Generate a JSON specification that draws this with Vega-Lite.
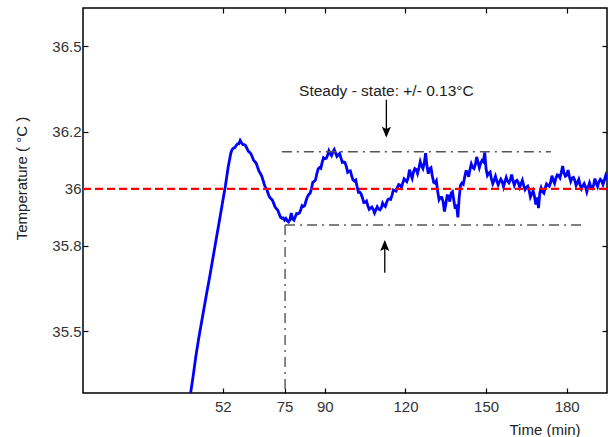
{
"$schema": "https://vega.github.io/schema/vega-lite/v6.json",
"width": 524, "height": 385,
"autosize": {"type": "none"},
"padding": {"left": 83, "top": 8, "right": 1, "bottom": 44},
"background": "white",
"datasets": {
"temp": [
{"t":40.05,"v":35.283},{"t":41,"v":35.343},{"t":42,"v":35.412},{"t":43,"v":35.472},{"t":44,"v":35.525},{"t":45,"v":35.579},{"t":46,"v":35.632},{"t":47,"v":35.683},{"t":48,"v":35.738},{"t":49,"v":35.792},{"t":50,"v":35.847},{"t":51,"v":35.901},{"t":52,"v":35.956},{"t":53,"v":36.011},{"t":54,"v":36.075},{"t":55,"v":36.125},
{"t":55.5,"v":36.138},{"t":56,"v":36.143},{"t":56.5,"v":36.145},{"t":57,"v":36.152},{"t":57.5,"v":36.158},{"t":58,"v":36.158},{"t":58.5,"v":36.17},{"t":59,"v":36.162},{"t":59.5,"v":36.155},{"t":60,"v":36.155},{"t":60.5,"v":36.152},{"t":61,"v":36.142},{"t":61.5,"v":36.132},{"t":62,"v":36.128},{"t":62.5,"v":36.123},{"t":63,"v":36.112},{"t":63.5,"v":36.1},{"t":64,"v":36.095},{"t":64.5,"v":36.089},{"t":65,"v":36.075},{"t":65.5,"v":36.062},{"t":66,"v":36.054},{"t":66.5,"v":36.045},{"t":67,"v":36.03},{"t":67.5,"v":36.014},{"t":68,"v":36.003},{"t":68.5,"v":35.995},{"t":69,"v":35.98},{"t":69.5,"v":35.97},{"t":70,"v":35.965},{"t":70.5,"v":35.96},{"t":71,"v":35.948},{"t":71.5,"v":35.936},{"t":72,"v":35.93},{"t":72.5,"v":35.925},{"t":73,"v":35.912},{"t":73.5,"v":35.9},{"t":74,"v":35.897},{"t":74.5,"v":35.898},
{"t":75,"v":35.89},{"t":75.5,"v":35.896},{"t":76,"v":35.888},{"t":76.5,"v":35.884},{"t":77,"v":35.891},{"t":77.5,"v":35.915},{"t":78,"v":35.894},{"t":78.5,"v":35.89},{"t":79,"v":35.902},{"t":79.5,"v":35.913},{"t":80,"v":35.912},{"t":80.5,"v":35.915},{"t":81,"v":35.925},{"t":81.5,"v":35.941},{"t":82,"v":35.938},{"t":82.5,"v":35.941},{"t":83,"v":35.958},{"t":83.5,"v":35.972},{"t":84,"v":35.98},{"t":84.5,"v":35.984},
{"t":85,"v":36.0},{"t":85.5,"v":36.023},{"t":86,"v":36.026},{"t":86.5,"v":36.031},{"t":87,"v":36.052},{"t":87.5,"v":36.07},{"t":88,"v":36.075},{"t":88.5,"v":36.072},{"t":89,"v":36.093},{"t":89.5,"v":36.109},{"t":90,"v":36.106},{"t":90.5,"v":36.107},{"t":91,"v":36.117},{"t":91.5,"v":36.134},{"t":92,"v":36.125},{"t":92.5,"v":36.117},{"t":93,"v":36.129},{"t":93.5,"v":36.138},{"t":94,"v":36.126},{"t":94.5,"v":36.114},{"t":95,"v":36.119},{"t":95.5,"v":36.124},{"t":96,"v":36.108},{"t":96.5,"v":36.093},{"t":97,"v":36.094},{"t":97.5,"v":36.092},{"t":98,"v":36.078},{"t":98.5,"v":36.058},{"t":99,"v":36.062},{"t":99.5,"v":36.063},
{"t":100,"v":36.045},{"t":100.5,"v":36.031},{"t":101,"v":36.027},{"t":101.5,"v":36.031},{"t":102,"v":36.008},{"t":102.5,"v":35.988},{"t":103,"v":35.988},{"t":103.5,"v":35.982},{"t":104,"v":35.968},{"t":104.5,"v":35.952},{"t":105,"v":35.953},{"t":105.5,"v":35.957},{"t":106,"v":35.94},{"t":106.5,"v":35.928},{"t":107,"v":35.932},{"t":107.5,"v":35.936},{"t":108,"v":35.928},{"t":108.5,"v":35.915},{"t":109,"v":35.926},{"t":109.5,"v":35.937},{"t":110,"v":35.929},{"t":110.5,"v":35.926},{"t":111,"v":35.932},{"t":111.5,"v":35.95},{"t":112,"v":35.942},{"t":112.5,"v":35.938},{"t":113,"v":35.953},{"t":113.5,"v":35.963},{"t":114,"v":35.965},{"t":114.5,"v":35.963},{"t":115,"v":35.978},{"t":115.5,"v":35.996},{"t":116,"v":35.994},{"t":116.5,"v":35.992},{"t":117,"v":36.005},{"t":117.5,"v":36.015},{"t":118,"v":36.013},{"t":118.5,"v":36.005},{"t":119,"v":36.021},{"t":119.5,"v":36.035},
{"t":120,"v":36.03},{"t":120.5,"v":36.025},{"t":121,"v":36.038},{"t":121.5,"v":36.067},{"t":122,"v":36.05},{"t":122.5,"v":36.037},{"t":123,"v":36.06},{"t":123.5,"v":36.071},{"t":124,"v":36.068},{"t":124.5,"v":36.054},{"t":125,"v":36.073},{"t":125.5,"v":36.095},{"t":126,"v":36.08},{"t":126.5,"v":36.071},{"t":127,"v":36.09},{"t":127.5,"v":36.125},{"t":128,"v":36.08},{"t":128.5,"v":36.053},{"t":129,"v":36.07},{"t":129.5,"v":36.074},{"t":130,"v":36.045},{"t":130.5,"v":36.023},{"t":131,"v":36.02},{"t":131.5,"v":36.028},{"t":132,"v":35.99},{"t":132.5,"v":35.962},{"t":133,"v":35.97},{"t":133.5,"v":35.97},{"t":134,"v":35.955},{"t":134.5,"v":35.92},{"t":135,"v":35.945},{"t":135.5,"v":35.976},{"t":136,"v":35.975},{"t":136.5,"v":35.955},{"t":137,"v":35.985},{"t":137.5,"v":35.99},{"t":138,"v":35.96},{"t":138.5,"v":35.93},{"t":139,"v":35.945},{"t":139.5,"v":35.9},
{"t":140,"v":35.97},{"t":140.5,"v":36.013},{"t":141,"v":36.02},{"t":141.5,"v":36.016},{"t":142,"v":36.04},{"t":142.5,"v":36.061},{"t":143,"v":36.06},{"t":143.5,"v":36.042},{"t":144,"v":36.067},{"t":144.5,"v":36.087},{"t":145,"v":36.075},{"t":145.5,"v":36.071},{"t":146,"v":36.085},{"t":146.5,"v":36.112},{"t":147,"v":36.093},{"t":147.5,"v":36.074},{"t":148,"v":36.09},{"t":148.5,"v":36.1},{"t":149,"v":36.095},{"t":149.5,"v":36.128},
{"t":150,"v":36.07},{"t":150.5,"v":36.047},{"t":151,"v":36.055},{"t":151.5,"v":36.059},{"t":152,"v":36.035},{"t":152.5,"v":36.018},{"t":153,"v":36.03},{"t":153.5,"v":36.044},{"t":154,"v":36.027},{"t":154.5,"v":36.014},{"t":155,"v":36.025},{"t":155.5,"v":36.034},{"t":156,"v":36.025},{"t":156.5,"v":36.007},{"t":157,"v":36.025},{"t":157.5,"v":36.04},{"t":158,"v":36.027},{"t":158.5,"v":36.021},{"t":159,"v":36.03},{"t":159.5,"v":36.05},{"t":160,"v":36.03},{"t":160.5,"v":36.013},{"t":161,"v":36.026},{"t":161.5,"v":36.03},{"t":162,"v":36.022},{"t":162.5,"v":36.006},{"t":163,"v":36.018},{"t":163.5,"v":36.03},{"t":164,"v":36.012},{"t":164.5,"v":35.997},{"t":165,"v":36.005},{"t":165.5,"v":36.009},{"t":166,"v":35.995},{"t":166.5,"v":35.971},{"t":167,"v":35.982},{"t":167.5,"v":35.993},{"t":168,"v":35.975},{"t":168.5,"v":35.945},{"t":169,"v":35.97},{"t":169.5,"v":35.932},
{"t":170,"v":35.985},{"t":170.5,"v":36.003},{"t":171,"v":35.99},{"t":171.5,"v":35.985},{"t":172,"v":36.003},{"t":172.5,"v":36.017},{"t":173,"v":36.012},{"t":173.5,"v":36.009},{"t":174,"v":36.022},{"t":174.5,"v":36.046},{"t":175,"v":36.03},{"t":175.5,"v":36.019},{"t":176,"v":36.038},{"t":176.5,"v":36.049},{"t":177,"v":36.047},{"t":177.5,"v":36.039},{"t":178,"v":36.058},{"t":178.5,"v":36.08},{"t":179,"v":36.055},{"t":179.5,"v":36.044},{"t":180,"v":36.048},{"t":180.5,"v":36.066},{"t":181,"v":36.043},{"t":181.5,"v":36.026},{"t":182,"v":36.038},{"t":182.5,"v":36.04},{"t":183,"v":36.03},{"t":183.5,"v":36.012},{"t":184,"v":36.022},{"t":184.5,"v":36.033},{"t":185,"v":36.014},{"t":185.5,"v":36.0},{"t":186,"v":36.01},{"t":186.5,"v":36.018},{"t":187,"v":36.007},{"t":187.5,"v":35.989},{"t":188,"v":36.006},{"t":188.5,"v":36.021},{"t":189,"v":36.007},{"t":189.5,"v":36.002},{"t":190,"v":36.012},{"t":190.5,"v":36.036},{"t":191,"v":36.02},{"t":191.5,"v":36.008},{"t":192,"v":36.025},{"t":192.5,"v":36.033},{"t":193,"v":36.028},{"t":193.5,"v":36.015},{"t":194,"v":36.03},{"t":194.5,"v":36.046},{"t":195,"v":36.032}
],
"guides": [
{"x1":74,"x2":174.1,"y1":36.13,"y2":36.13},
{"x1":75.2,"x2":186.5,"y1":35.873,"y2":35.873},
{"x1":75.2,"x2":75.2,"y1":35.873,"y2":35.283}
],
"setpoint": [{"ref": 36}],
"arrows": [
{"ax":112.9,"tail":36.313,"tip":36.185,"head":36.2,"dir":"down"},
{"ax":112.3,"tail":35.705,"tip":35.815,"head":35.8,"dir":"up"}
],
"notes": [
{"nx":112.9,"ny":36.342,"label":"Steady - state: +/- 0.13°C"}
]
},
"layer": [
{
"data": {"name": "temp"},
"mark": {"type": "line", "color": "#0000ff", "strokeWidth": 2.8, "clip": true},
"encoding": {
"x": {"field": "t", "type": "quantitative", "scale": {"domain": [0, 195], "nice": false, "zero": false},
"axis": {"orient": "bottom", "values": [52, 75, 90, 120, 150, 180], "labelExpr": "'' + datum.value", "title": "Time (min)", "titleX": 461.5, "titleY": 36, "titleBaseline": "middle", "titleAlign": "center", "labelPadding": 11}},
"y": {"field": "v", "type": "quantitative", "scale": {"domain": [35.283, 36.635], "nice": false, "zero": false},
"axis": {"orient": "left", "values": [35.5, 35.8, 36, 36.2, 36.5], "labelExpr": "'' + datum.value", "title": "Temperature ( °C )", "titleX": -62, "titleY": 170, "titleBaseline": "middle", "titleAlign": "center", "titleAngle": -90, "labelPadding": 7}}
}
},
{
"data": {"name": "guides"},
"mark": {"type": "rule", "color": "#555555", "strokeWidth": 1.4, "strokeDash": [10, 5, 2, 5]},
"encoding": {
"x": {"field": "x1", "type": "quantitative", "scale": {"domain": [0, 195], "nice": false, "zero": false},
"axis": {"orient": "top", "values": [52, 75, 90, 120, 150, 180], "labels": false, "title": null}},
"x2": {"field": "x2"},
"y": {"field": "y1", "type": "quantitative", "scale": {"domain": [35.283, 36.635], "nice": false, "zero": false},
"axis": {"orient": "right", "values": [35.5, 35.8, 36, 36.2, 36.5], "labels": false, "title": null}},
"y2": {"field": "y2"}
}
},
{
"data": {"name": "setpoint"},
"mark": {"type": "rule", "color": "#ff0000", "strokeWidth": 2.2, "strokeDash": [8, 4]},
"encoding": {"y": {"field": "ref", "type": "quantitative", "axis": null}}
},
{
"data": {"name": "arrows"},
"mark": {"type": "rule", "color": "#000000", "strokeWidth": 1.3},
"encoding": {
"x": {"field": "ax", "type": "quantitative", "axis": null},
"y": {"field": "tail", "type": "quantitative", "axis": null},
"y2": {"field": "tip"}
}
},
{
"data": {"name": "arrows"},
"transform": [{"filter": "datum.dir == 'down'"}],
"mark": {"type": "point", "filled": true, "color": "#000000", "opacity": 1, "size": 130, "shape": "M0,1L-0.8,-0.9L0,-0.5L0.8,-0.9Z"},
"encoding": {
"x": {"field": "ax", "type": "quantitative", "axis": null},
"y": {"field": "head", "type": "quantitative", "axis": null}
}
},
{
"data": {"name": "arrows"},
"transform": [{"filter": "datum.dir == 'up'"}],
"mark": {"type": "point", "filled": true, "color": "#000000", "opacity": 1, "size": 130, "shape": "M0,-1L-0.8,0.9L0,0.5L0.8,0.9Z"},
"encoding": {
"x": {"field": "ax", "type": "quantitative", "axis": null},
"y": {"field": "head", "type": "quantitative", "axis": null}
}
},
{
"data": {"name": "notes"},
"mark": {"type": "text", "font": "Liberation Sans", "fontSize": 15.5, "color": "#222222", "align": "center", "baseline": "middle"},
"encoding": {
"x": {"field": "nx", "type": "quantitative", "axis": null},
"y": {"field": "ny", "type": "quantitative", "axis": null},
"text": {"field": "label"}
}
}
],
"resolve": {"axis": {"x": "independent", "y": "independent"}},
"config": {
"view": {"stroke": "#000000", "strokeWidth": 1.5},
"axis": {"domain": false, "grid": false, "labelFont": "Liberation Sans", "labelFontSize": 15, "labelColor": "#333333", "tickColor": "#000000", "tickSize": -5, "tickWidth": 1.2, "titleFont": "Liberation Sans", "titleFontSize": 15, "titleFontWeight": "normal", "titleColor": "#222222"}
}
}
